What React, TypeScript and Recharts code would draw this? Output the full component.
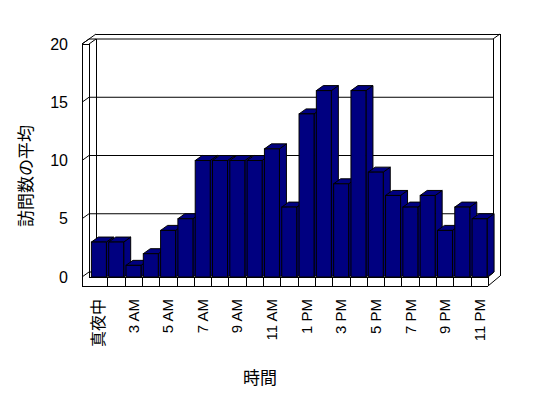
import React from "react";
import { BarChart, Bar, XAxis, YAxis, CartesianGrid } from "recharts";

// 23 hourly buckets (one hour has no data)
const hours = [
  "真夜中", "1 AM", "3 AM", "4 AM", "5 AM", "6 AM", "7 AM", "8 AM",
  "9 AM", "10 AM", "11 AM", "正午", "1 PM", "2 PM", "3 PM", "4 PM",
  "5 PM", "6 PM", "7 PM", "8 PM", "9 PM", "10 PM", "11 PM",
];
const avgVisits = [3, 3, 1, 2, 4, 5, 10, 10, 10, 10, 11, 6, 14, 16, 8, 16, 9, 7, 6, 7, 4, 6, 5];
const yTicks = [0, 5, 10, 15, 20];

const data = hours.map((h, i) => ({ hour: h, visits: avgVisits[i] }));

const W = 548;
const H = 398;
const PLOT_L = 90;
const PLOT_R = 488;
const PLOT_T = 44;
const PLOT_B = 277;
const DX = 7;
const DY = 5;
const NAVY = "#000080";
const FONT = "'Liberation Sans', Arial, 'Noto Sans CJK JP', sans-serif";
const CJK = "'Noto Sans CJK JP', sans-serif";

function Bar3D(props: any) {
  const { x, y, width, height } = props;
  if (width == null || height == null) return null;
  const x2 = x + width;
  const yb = y + height;
  return (
    <g stroke="#000" strokeWidth={1} fill={NAVY}>
      <polygon points={`${x2},${y} ${x2 + DX},${y - DY} ${x2 + DX},${yb - DY} ${x2},${yb}`} />
      <polygon points={`${x},${y} ${x + DX},${y - DY} ${x2 + DX},${y - DY} ${x2},${y}`} />
      <rect x={x} y={y} width={width} height={height} />
    </g>
  );
}

function GridLine(props: any) {
  const { y1 } = props;
  const yb = y1 - DY;
  return (
    <g stroke="#000" strokeWidth={1} fill="none">
      <line x1={PLOT_L - 8} y1={y1} x2={PLOT_L - 1} y2={yb} />
      <line x1={PLOT_L - 1} y1={yb} x2={PLOT_R + 5} y2={yb} />
    </g>
  );
}

function XTick(props: any) {
  const { x, payload } = props;
  const label: string = payload.value;
  const cjk = /[^\x00-\x7f]/.test(label);
  return (
    <text
      transform={`translate(${x},${PLOT_B + 22}) rotate(-90)`}
      textAnchor="end"
      dy="0.36em"
      fontSize={cjk ? 16 : 15}
      fontFamily={cjk ? CJK : FONT}
      fill="#000"
    >
      {label}
    </text>
  );
}

function Frame() {
  const n = hours.length;
  const band = (PLOT_R - PLOT_L) / n;
  const divs = Array.from({ length: n - 1 }, (_, i) => PLOT_L + band * (i + 1));
  return (
    <svg width={W} height={H} style={{ position: "absolute", left: 0, top: 0 }}>
      <rect x={0} y={0} width={W} height={H} fill="#fff" />
      <g stroke="#000" strokeWidth={1} fill="none" shapeRendering="crispEdges">
        <line x1={82} y1={44} x2={82} y2={286} />
        <line x1={89} y1={44} x2={89} y2={277} />
        <line x1={82} y1={44} x2={89} y2={44} />
        <line x1={96} y1={39} x2={96} y2={272} />
        <line x1={96} y1={34} x2={500} y2={34} />
        <line x1={493} y1={39} x2={493} y2={272} />
        <line x1={500} y1={34} x2={500} y2={276} />
        <line x1={82} y1={286} x2={488} y2={286} />
        <line x1={89} y1={277} x2={488} y2={277} />
        <line x1={488} y1={277} x2={488} y2={286} />
        {divs.map((d) => (
          <line key={d} x1={Math.round(d)} y1={277} x2={Math.round(d)} y2={286} />
        ))}
      </g>
      <g stroke="#000" strokeWidth={1} fill="none">
        <line x1={82} y1={44} x2={96} y2={34} />
        <line x1={89} y1={44} x2={96} y2={39} />
        <line x1={493} y1={39} x2={500} y2={34} />
        <line x1={488} y1={286} x2={500} y2={276} />
        <line x1={488} y1={277} x2={493} y2={273} />
      </g>
      <text
        transform="translate(24,176) rotate(-90)"
        textAnchor="middle"
        dominantBaseline="central"
        fontSize={17}
        fontFamily={CJK}
        fill="#000"
      >
        訪問数の平均
      </text>
      <text x={260} y={376} textAnchor="middle" dominantBaseline="central" fontSize={17} fontFamily={CJK} fill="#000">
        時間
      </text>
    </svg>
  );
}

export default function App() {
  return (
    <div style={{ position: "absolute", left: 0, top: 0, width: W, height: H }}>
      <Frame />
      <div style={{ position: "absolute", left: 0, top: 0 }}>
        <BarChart
          width={W}
          height={H}
          data={data}
          margin={{ top: PLOT_T, right: W - PLOT_R, bottom: H - PLOT_B - 100, left: 30 }}
          barCategoryGap="8%"
        >
          <CartesianGrid vertical={false} horizontal={(p: any) => <GridLine key={p.key} {...p} />} />
          <XAxis
            dataKey="hour"
            interval={1}
            height={100}
            axisLine={false}
            tickLine={false}
            tick={<XTick />}
          />
          <YAxis
            width={60}
            domain={[0, 20]}
            ticks={yTicks}
            axisLine={false}
            tickLine={false}
            tickSize={0}
            tickMargin={22}
            tick={{ fontSize: 16, fill: "#000", fontFamily: FONT }}
          />
          <Bar dataKey="visits" shape={<Bar3D />} isAnimationActive={false} />
        </BarChart>
      </div>
    </div>
  );
}
